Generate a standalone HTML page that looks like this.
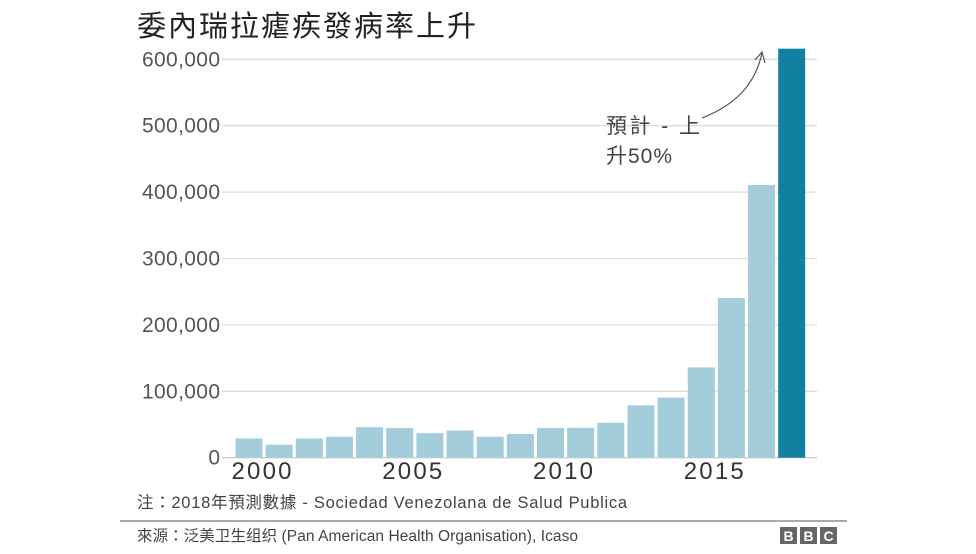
<!DOCTYPE html>
<html><head><meta charset="utf-8"><style>
body{margin:0;background:#fff;width:976px;height:549px;overflow:hidden;font-family:"Liberation Sans","Noto Sans CJK TC",sans-serif}
</style></head><body>
<svg width="976" height="549" viewBox="0 0 976 549">
<text x="137" y="36" font-size="29" fill="#222" textLength="339" lengthAdjust="spacing">委內瑞拉瘧疾發病率上升</text>
<g id="grid"></g>
<g id="bars"></g>
<g id="xlabels"></g>
<text font-size="21" fill="#444"><tspan x="606" y="133" textLength="94" lengthAdjust="spacing">預計 - 上</tspan><tspan x="606" y="163" textLength="66" lengthAdjust="spacing">升50%</tspan></text>
<path d="M702,118 C735,105 755,85 762,53" fill="none" stroke="#555" stroke-width="1.2"/>
<path d="M755,60 L762,52 L765,63" fill="none" stroke="#555" stroke-width="1.2"/>
<text x="137" y="508" font-size="16.5" fill="#444" textLength="490" lengthAdjust="spacing">注：2018年預測數據 - Sociedad Venezolana de Salud Publica</text>
<line x1="120" y1="521" x2="847" y2="521" stroke="#777" stroke-width="1.2"/>
<text x="137" y="541" font-size="15.5" fill="#444" textLength="441" lengthAdjust="spacing">來源：泛美卫生组织 (Pan American Health Organisation), Icaso</text>
<g font-size="14" font-weight="bold" fill="#fff" text-anchor="middle">
<rect x="780" y="527" width="17" height="17" fill="#666"/><text x="788.5" y="541">B</text>
<rect x="800" y="527" width="17" height="17" fill="#666"/><text x="808.5" y="541">B</text>
<rect x="820" y="527" width="17" height="17" fill="#666"/><text x="828.5" y="541">C</text>
</g>
</svg>
<script>
const years=[2000,2001,2002,2003,2004,2005,2006,2007,2008,2009,2010,2011,2012,2013,2014,2015,2016,2017,2018];
const cases=[29000,19600,29000,31600,46000,44700,37000,41000,31600,35700,44700,45000,52700,78900,90400,136000,240500,410700,616000];
const yTicks=[0,100000,200000,300000,400000,500000,600000];
const yTickLabels=["0","100,000","200,000","300,000","400,000","500,000","600,000"];
const xTickYears=[2000,2005,2010,2015];
const NS="http://www.w3.org/2000/svg";
const y0=457.7,pxPer=66.4/100000;
const yS=v=>y0-v*pxPer;
const xS=yr=>235.5+(yr-2000)*30.15;
const grid=document.getElementById('grid'),bars=document.getElementById('bars'),xl=document.getElementById('xlabels');
yTicks.forEach((t,i)=>{
 const l=document.createElementNS(NS,'line');
 
 
 l.setAttribute('x1',222);l.setAttribute('x2',817);l.setAttribute('y1',yS(t));l.setAttribute('y2',yS(t));
 l.setAttribute('stroke',i==0?'#ccc':'#ddd');l.setAttribute('stroke-width',1.3);
 grid.appendChild(l);
 const tx=document.createElementNS(NS,'text');
 
 
 tx.setAttribute('x',220);tx.setAttribute('y',yS(t)+7);tx.setAttribute('text-anchor','end');
 tx.setAttribute('font-size','21');tx.setAttribute('fill','#555');tx.textContent=yTickLabels[i];
 if(yTickLabels[i].length>1){tx.setAttribute('textLength','78');tx.setAttribute('lengthAdjust','spacing');}
 grid.appendChild(tx);
});
years.forEach((yr,i)=>{
 const r=document.createElementNS(NS,'rect');
 
 
 r.setAttribute('x',xS(yr));r.setAttribute('width',27);
 r.setAttribute('y',yS(cases[i]));r.setAttribute('height',y0-yS(cases[i]));
 r.setAttribute('fill',yr==2018?'#1380a1':'#a3cddb');
 bars.appendChild(r);
});
xTickYears.forEach(yr=>{
 const tx=document.createElementNS(NS,'text');
 
 
 tx.setAttribute('x',xS(yr)-4);tx.setAttribute('y',479);
 tx.setAttribute('font-size','24');tx.setAttribute('fill','#333');
 tx.setAttribute('textLength','60');tx.setAttribute('lengthAdjust','spacing');
 tx.textContent=yr;
 xl.appendChild(tx);
});
</script>
</body></html>
